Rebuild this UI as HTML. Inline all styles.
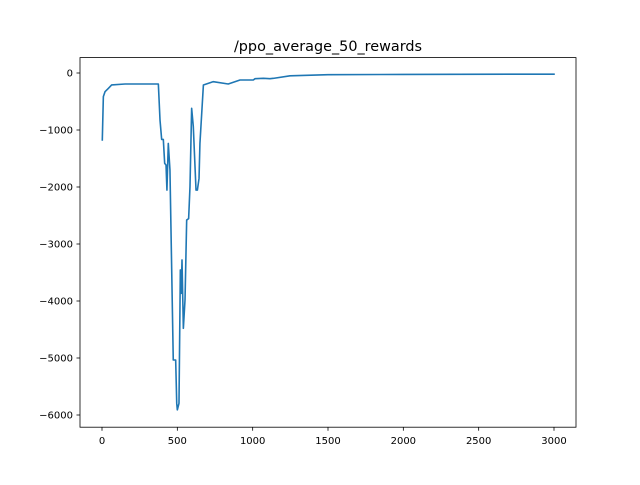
<!DOCTYPE html>
<html><head><meta charset="utf-8"><style>
body{margin:0;background:#fff;}
text{font-family:"DejaVu Sans","Liberation Sans",sans-serif;}
</style></head><body>
<svg id="chart" width="640" height="480" xmlns="http://www.w3.org/2000/svg">
<rect width="640" height="480" fill="#fff"/>
<text x="328" y="51" font-size="14.4" text-anchor="middle" fill="#000">/ppo_average_50_rewards</text>
<g id="axes"></g>
<rect x="80" y="57.6" width="496" height="369.6" fill="none" stroke="#000" stroke-width="0.8"/>
</svg>
<script>
const xs=[2,9,20,42,64,153,374,385,396,407,416,425,431,440,451,473,489,496,500,511,520,526,531,540,551,562,575,584,595,606,624,633,644,650,673,739,838,916,1004,1016,1071,1115,1137,1248,1500,2000,3000];
const ys=[-1175,-415,-328,-270,-210,-193,-193,-825,-1165,-1165,-1585,-1615,-2055,-1235,-1700,-5035,-5035,-5795,-5910,-5795,-3455,-3865,-3280,-4480,-3980,-2580,-2555,-1995,-620,-940,-2055,-2055,-1850,-1235,-210,-152,-193,-123,-123,-100,-94,-100,-94,-50,-30,-25,-20];
const xTicks=[0,500,1000,1500,2000,2500,3000];
const yTicks=[0,-1000,-2000,-3000,-4000,-5000,-6000];
const sx=v=>102+v*(452/3000);
const sy=v=>73-v*(342/6000);
const NS="http://www.w3.org/2000/svg";
const g=document.getElementById('axes');
function mk(t,a){const e=document.createElementNS(NS,t);for(const k in a)e.setAttribute(k,a[k]);g.appendChild(e);return e;}
xTicks.forEach(t=>{
 const l=mk('line',{x1:sx(t),x2:sx(t),y1:427.2,y2:430.7,stroke:'#000','stroke-width':0.8});
 
 
 const tx=mk('text',{x:sx(t),y:444,'font-size':10,'text-anchor':'middle'});
 tx.textContent=t;
 
 
});
yTicks.forEach(t=>{
 const l=mk('line',{x1:76.5,x2:80,y1:sy(t),y2:sy(t),stroke:'#000','stroke-width':0.8});
 
 
 const tx=mk('text',{x:73,y:sy(t)+3.6,'font-size':10,'text-anchor':'end'});
 tx.textContent=t===0?'0':'\u2212'+Math.abs(t);
 
 
});
const p=mk('polyline',{points:xs.map((x,i)=>sx(x)+','+sy(ys[i])).join(' '),fill:'none',stroke:'#1f77b4','stroke-width':1.6,'stroke-linejoin':'round','stroke-linecap':'square'});


</script>
</body></html>
